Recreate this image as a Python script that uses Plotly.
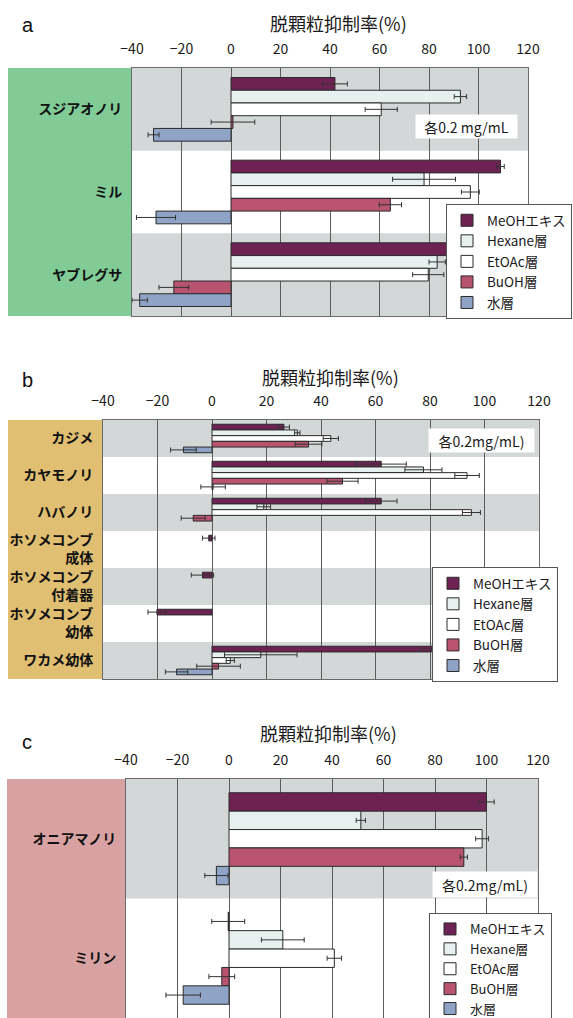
import plotly.graph_objects as go

W, H = 573, 1018

series = ["MeOHエキス", "Hexane層", "EtOAc層", "BuOH層", "水層"]
colors = ["#6d2253", "#e6f0ef", "#ffffff", "#b85470", "#8fa3c7"]

# ---- panel a ----
cats_a = ["スジアオノリ", "ミル", "ヤブレグサ"]
meoh_a = [42.0, 108.9, 90.7]
meoh_a_err = [5.0, 1.5, 1.0]
hex_a = [92.7, 78.0, 83.3]
hex_a_err = [2.5, 12.7, 3.3]
etoac_a = [60.7, 96.7, 79.7]
etoac_a_err = [6.5, 3.6, 6.3]
buoh_a = [0.8, 64.4, -23.1]
buoh_a_err = [8.8, 4.5, 6.0]
water_a = [-31.3, -30.3, -36.9]
water_a_err = [2.2, 7.9, 3.1]

# ---- panel b ----
cats_b = ["カジメ", "カヤモノリ", "ハバノリ", "ホソメコンブ<br>成体",
          "ホソメコンブ<br>付着器", "ホソメコンブ<br>幼体", "ワカメ幼体"]
meoh_b = [26.4, 62.1, 62.1, -1.2, -3.5, -20.2, 80.6]
meoh_b_err = [2.0, 9.2, 5.8, 2.3, 4.1, 3.3, 4.0]
hex_b = [31.3, 77.6, 19.0, None, None, None, 17.9]
hex_b_err = [1.0, 6.8, 2.5, None, None, None, 13.3]
etoac_b = [43.6, 93.6, 95.2, None, None, None, 6.7]
etoac_b_err = [2.8, 4.5, 3.3, None, None, None, 1.5]
buoh_b = [35.4, 47.9, -6.9, None, None, None, 2.4]
buoh_b_err = [4.9, 5.7, 4.4, None, None, None, 8.0]
water_b = [-10.5, 0.4, None, None, None, None, -13.0]
water_b_err = [4.7, 4.5, None, None, None, None, 4.1]

# ---- panel c ----
cats_c = ["オニアマノリ", "ミリン"]
meoh_c = [100.0, -0.3]
meoh_c_err = [3.0, 6.4]
hex_c = [51.2, 20.9]
hex_c_err = [1.8, 8.3]
etoac_c = [98.3, 40.9]
etoac_c_err = [2.5, 2.8]
buoh_c = [91.2, -2.8]
buoh_c_err = [1.4, 5.0]
water_c = [-4.9, -17.8]
water_c_err = [4.5, 6.7]

x_ticks = [-40, -20, 0, 20, 40, 60, 80, 100, 120]
title_text = "脱顆粒抑制率(%)"
letters = ["a", "b", "c"]
notes = ["各0.2 mg/mL", "各0.2mg/mL)", "各0.2mg/mL)"]

panels = [
    dict(cats=cats_a,
         vals=[meoh_a, hex_a, etoac_a, buoh_a, water_a],
         errs=[meoh_a_err, hex_a_err, etoac_a_err, buoh_a_err, water_a_err],
         xdom=(132, 528), ydom=(68, 316), strip=(8, "#80cb96"),
         title_xy=(338, 23), letter_xy=(28, 25), note_box=(416, 517, 115, 138),
         legend_xy=(446, 204), legend_font=13.5),
    dict(cats=cats_b,
         vals=[meoh_b, hex_b, etoac_b, buoh_b, water_b],
         errs=[meoh_b_err, hex_b_err, etoac_b_err, buoh_b_err, water_b_err],
         xdom=(103, 539), ydom=(420, 679), strip=(8, "#e0bf72"),
         title_xy=(330, 377), letter_xy=(27, 380), note_box=(429, 534, 429, 452),
         legend_xy=(432, 567), legend_font=13.5),
    dict(cats=cats_c,
         vals=[meoh_c, hex_c, etoac_c, buoh_c, water_c],
         errs=[meoh_c_err, hex_c_err, etoac_c_err, buoh_c_err, water_c_err],
         xdom=(126, 538), ydom=(779, 1018), strip=(7, "#d8a2a2"),
         title_xy=(328, 733), letter_xy=(27, 742), note_box=(433, 537, 872, 897),
         legend_xy=(429, 913), legend_font=13),
]

FONT = "Noto Sans CJK JP"


def px(xp):
    return xp / W


def py(yp):
    return 1 - yp / H


fig = go.Figure()
shapes = []
annotations = []
layout = {}

for i, p in enumerate(panels, start=1):
    sfx = "" if i == 1 else str(i)
    xa, ya = "x" + sfx, "y" + sfx
    leg = "legend" + sfx
    for j, name in enumerate(series):
        fig.add_trace(go.Bar(
            x=p["vals"][j], y=p["cats"], orientation="h", name=name,
            xaxis=xa, yaxis=ya, legend=leg, legendgroup=f"{i}-{j}",
            marker=dict(color=colors[j], line=dict(color="#2a2a2a", width=1)),
            error_x=dict(type="data", array=p["errs"][j], visible=True,
                         color="#333333", thickness=1, width=2.5),
        ))
    layout["xaxis" + sfx] = dict(
        domain=[px(p["xdom"][0]), px(p["xdom"][1])], anchor=ya, side="top",
        range=[-40, 120], tickmode="array", tickvals=x_ticks,
        showgrid=True, gridcolor="#5c5c5c", gridwidth=1, zeroline=False,
        showline=True, mirror=True, linecolor="#6a6a6a", linewidth=1,
        ticks="", ticklabelstandoff=7, automargin=False,
        tickfont=dict(size=14, color="#1a1a1a", family=FONT), fixedrange=True,
    )
    layout["yaxis" + sfx] = dict(
        domain=[max(0, py(p["ydom"][1])), py(p["ydom"][0])], anchor=xa,
        type="category", categoryorder="array", categoryarray=p["cats"],
        autorange="reversed", showgrid=False, zeroline=False,
        showline=True, mirror=True, linecolor="#6a6a6a", linewidth=1,
        ticks="", ticklabelstandoff=6, automargin=False,
        tickfont=dict(size=14, color="#111111", family=FONT, weight="bold"),
        fixedrange=True,
    )
    # coloured strip behind the category labels
    shapes.append(dict(type="rect", xref="paper", yref="paper",
                       x0=px(p["strip"][0]), x1=px(p["xdom"][0]),
                       y0=max(0, py(p["ydom"][1])), y1=py(p["ydom"][0]),
                       fillcolor=p["strip"][1], line=dict(width=0), layer="below"))
    # alternating grey bands
    for k in range(len(p["cats"])):
        if k % 2 == 0:
            shapes.append(dict(type="rect", xref=xa + " domain", yref=ya,
                               x0=0, x1=1, y0=k - 0.5, y1=k + 0.5,
                               fillcolor="#d3d7d7", line=dict(width=0), layer="below"))
    # title and letter
    annotations.append(dict(text=title_text, xref="paper", yref="paper",
                            x=px(p["title_xy"][0]), y=py(p["title_xy"][1]),
                            xanchor="center", yanchor="middle", showarrow=False,
                            font=dict(size=18, color="#1a1a1a", family=FONT)))
    annotations.append(dict(text=letters[i - 1], xref="paper", yref="paper",
                            x=px(p["letter_xy"][0]), y=py(p["letter_xy"][1]),
                            xanchor="center", yanchor="middle", showarrow=False,
                            font=dict(size=20, color="#111111", family="Liberation Sans")))
    nb = p["note_box"]
    annotations.append(dict(text=notes[i - 1], xref="paper", yref="paper",
                            x=px((nb[0] + nb[1]) / 2), y=py((nb[2] + nb[3]) / 2),
                            xanchor="center", yanchor="middle", showarrow=False,
                            width=nb[1] - nb[0], height=nb[3] - nb[2], borderpad=0,
                            bgcolor="#ffffff",
                            font=dict(size=14, color="#1a1a1a", family=FONT)))
    layout[leg] = dict(
        x=px(p["legend_xy"][0]), y=py(p["legend_xy"][1]), xanchor="left", yanchor="top",
        bgcolor="#ffffff", bordercolor="#555555", borderwidth=1,
        font=dict(size=p["legend_font"], color="#1a1a1a", family=FONT),
        traceorder="grouped", tracegroupgap=0, itemwidth=30,
    )

fig.update_layout(
    width=W, height=H, margin=dict(l=0, r=0, t=0, b=0, autoexpand=False),
    paper_bgcolor="#ffffff", plot_bgcolor="#ffffff",
    barmode="group", bargap=0.23, bargroupgap=0,
    font=dict(family=FONT, color="#1a1a1a"),
    shapes=shapes, annotations=annotations, showlegend=True,
    **layout,
)

fig.write_html(
    "out.html",
    config={"displayModeBar": False},
    post_script="document.body.style.margin='0';document.body.style.overflow='hidden';",
)
